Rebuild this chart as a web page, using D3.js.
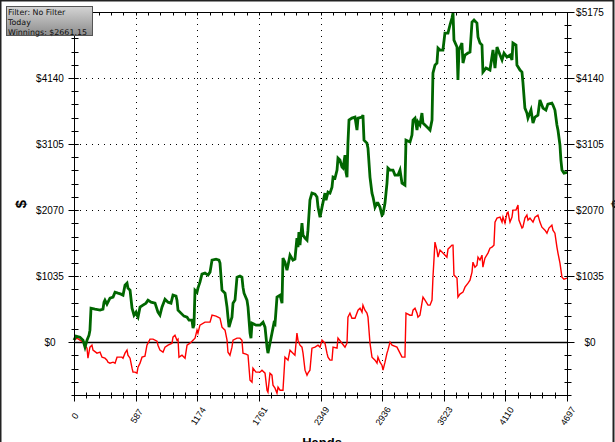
<!DOCTYPE html>
<html><head><meta charset="utf-8">
<script src="https://cdn.jsdelivr.net/npm/d3@7/dist/d3.min.js"></script>
<style>html,body{margin:0;padding:0;background:#fff;overflow:hidden}svg{display:block}</style>
</head><body>
<svg id="chart" width="615" height="442"></svg>
<script>
// ---- data ----
const greenHands = [0,19,57,86,105,124,143,152,162,200,248,276,286,295,314,343,372,391,419,448,467,486,505,514,534,553,572,591,600,610,629,657,686,705,734,772,800,819,838,867,896,924,943,972,981,991,1019,1048,1077,1096,1124,1134,1143,1153,1172,1181,1200,1219,1248,1277,1296,1315,1353,1381,1391,1410,1439,1458,1467,1477,1496,1505,1515,1534,1553,1581,1600,1610,1620,1648,1658,1677,1686,1696,1734,1772,1801,1820,1839,1848,1867,1886,1905,1915,1934,1963,1982,1991,2010,2029,2039,2058,2086,2105,2124,2134,2143,2153,2172,2182,2201,2220,2229,2248,2267,2296,2315,2325,2344,2363,2391,2401,2420,2439,2458,2468,2487,2506,2515,2534,2553,2563,2582,2591,2601,2610,2620,2648,2677,2696,2706,2744,2753,2763,2791,2801,2820,2839,2849,2868,2887,2896,2915,2934,2944,2963,2982,2991,3011,3039,3058,3087,3106,3125,3153,3163,3201,3220,3230,3249,3268,3277,3296,3315,3325,3344,3373,3392,3411,3420,3439,3458,3468,3487,3515,3534,3563,3582,3601,3611,3620,3649,3658,3668,3696,3706,3725,3754,3773,3792,3811,3839,3849,3868,3887,3896,3925,3963,3992,4011,4030,4059,4078,4097,4125,4154,4173,4182,4211,4220,4249,4268,4277,4296,4315,4325,4354,4373,4392,4420,4439,4468,4496,4515,4553,4563,4582,4601,4611,4630,4639,4649,4668,4697];
const greenValues = [31,94,78,31,-78,31,110,188,533,517,502,517,627,659,596,690,706,784,768,753,737,894,925,847,815,533,423,470,423,392,549,580,612,659,627,612,470,423,549,674,627,612,737,721,659,502,455,408,392,345,345,220,267,815,784,847,941,1066,1082,1051,1098,1286,1301,1286,1239,815,768,549,392,235,345,392,612,659,1019,1035,1019,862,768,659,549,141,63,298,267,267,314,235,-78,-172,-16,141,298,282,706,737,612,1317,1254,1129,1207,1364,1286,1301,1631,1490,1725,1521,1866,1678,1631,1600,1756,2227,2336,2321,2274,2117,1960,2117,2336,2227,2352,2336,2430,2587,2572,2697,2885,2854,2744,2728,2932,2666,2587,3120,3481,3512,3528,3324,3512,3528,3559,3167,3120,3042,2587,2336,2274,2117,2180,2180,2117,1991,2007,2180,2493,2728,2697,2697,2619,2619,2697,2493,2462,3167,3136,3246,3481,3512,3324,3450,3403,3591,3434,3403,3356,3324,3481,4218,4343,4375,4610,4579,4579,4845,4845,4971,5080,5159,4735,4626,4108,4579,4688,4375,4500,4532,4547,5018,5049,5002,4783,4688,4657,4234,4296,4265,4579,4296,4626,4500,4422,4532,4469,4500,4422,4688,4657,4343,4265,4234,4077,3669,3591,3512,3638,3434,3528,3559,3795,3669,3638,3732,3747,3716,3638,3403,3324,3089,2854,2697,2650,2661];

const redHands = [0,29,57,86,105,124,133,143,152,171,181,219,248,267,295,314,324,343,372,391,410,438,457,467,486,505,514,534,553,562,581,600,610,629,648,676,695,705,724,753,791,800,819,848,867,896,934,943,962,981,991,1000,1029,1058,1077,1105,1134,1153,1172,1181,1200,1248,1296,1315,1353,1372,1391,1410,1439,1458,1467,1486,1505,1515,1553,1581,1600,1610,1639,1658,1677,1696,1705,1734,1772,1791,1820,1839,1848,1867,1886,1896,1915,1934,1944,1963,1991,2010,2039,2058,2086,2105,2124,2134,2153,2172,2182,2201,2220,2229,2248,2267,2296,2325,2344,2363,2391,2410,2420,2439,2458,2468,2506,2515,2553,2582,2601,2610,2629,2648,2677,2706,2725,2744,2753,2772,2791,2801,2820,2839,2868,2887,2896,2915,2934,2944,2963,2982,2991,3011,3030,3077,3106,3125,3153,3163,3201,3220,3230,3249,3268,3277,3296,3315,3325,3344,3373,3392,3411,3420,3439,3458,3468,3487,3515,3553,3563,3601,3611,3620,3649,3658,3677,3706,3725,3754,3773,3792,3801,3820,3839,3849,3868,3887,3896,3915,3944,3963,3982,4001,4011,4030,4059,4078,4087,4106,4125,4135,4154,4173,4182,4211,4230,4239,4268,4277,4296,4315,4325,4344,4373,4392,4420,4439,4458,4487,4506,4525,4553,4563,4582,4601,4611,4630,4649,4668,4697];
const redValues = [31,63,31,0,-47,-94,-251,-157,-78,-47,-125,-172,-157,-235,-251,-282,-314,-329,-314,-329,-235,-235,-235,-251,-172,-125,-204,-251,-408,-470,-470,-486,-392,-329,-235,-220,-47,-16,47,47,16,-47,-125,-157,-78,-47,-16,78,110,31,47,-235,-204,-251,-47,-16,31,63,188,141,267,314,314,423,408,392,376,235,188,31,-157,-204,-78,31,63,63,31,-172,-188,-204,-596,-627,-408,-470,-470,-439,-486,-753,-784,-486,-517,-674,-721,-800,-706,-753,-753,-235,-282,-125,-172,-204,141,31,-47,-78,-172,-439,-517,-486,-439,-94,-78,-47,-78,31,-16,-172,-235,-282,-282,-78,-94,63,-16,-78,-16,392,455,376,376,502,533,470,580,502,455,392,-16,-235,-282,-329,-235,-314,-361,-439,-314,-172,-125,0,-47,-78,-172,-235,-235,455,423,423,502,533,455,392,423,612,706,659,580,580,659,1019,1568,1443,1333,1443,1396,1333,1458,1521,1521,1051,1004,706,753,784,862,925,972,1098,1254,1176,1207,1333,1286,1364,1176,1317,1396,1474,1490,1521,1882,1944,1960,1882,1960,1866,2023,2038,1882,1960,2070,2070,2148,1913,1788,1803,1944,1991,1913,1944,1882,1960,1991,1882,1803,1756,1709,1788,1835,1756,1709,1490,1396,1239,1019,988,1004];

const xTickValues = [0,587,1174,1761,2349,2936,3523,4110,4697];
const xTickLabels = ["0","587","1174","1761","2349","2936","3523","4110","4697"];
const yTickValues = [0,1035,2070,3105,4140,5175];
const yTickLabels = ["$0","$1035","$2070","$3105","$4140","$5175"];
const legendLines = ["Filter: No Filter","Today","Winnings: $2661.15"];

// ---- chart ----
const svg = d3.select("#chart");
const x = d3.scaleLinear().domain([0,4697]).range([74,567]);
const y = d3.scaleLinear().domain([-828,5175]).range([395,12]);

const xMinor = d3.range(0, 4697+1, 4697/40);
const yMinor = d3.range(-828, 5175+1, 207);

// grid
svg.append("g").selectAll("line").data(xTickValues.slice(1,-1)).join("line")
  .attr("x1",d=>Math.round(x(d))+0.5).attr("x2",d=>Math.round(x(d))+0.5)
  .attr("y1",y(5175)).attr("y2",y(-828))
  .attr("stroke","#000").attr("stroke-width",1).attr("stroke-dasharray","1,5");
svg.append("g").selectAll("line").data(yTickValues.slice(1,-1)).join("line")
  .attr("x1",x(0)).attr("x2",x(4697))
  .attr("y1",d=>Math.round(y(d))+0.5).attr("y2",d=>Math.round(y(d))+0.5)
  .attr("stroke","#000").attr("stroke-width",1).attr("stroke-dasharray","1,5");

// zero line
svg.append("line").attr("x1",x(0)).attr("x2",x(4697))
  .attr("y1",Math.round(y(0))+0.5).attr("y2",Math.round(y(0))+0.5)
  .attr("stroke","#000").attr("stroke-width",1.3);

// lines
const line = d3.line().x(d=>x(d[0])).y(d=>y(d[1]));
const red = redHands.map((h,i)=>[h,redValues[i]]);
const green = greenHands.map((h,i)=>[h,greenValues[i]]);
svg.append("path").datum(red).attr("d",line).attr("fill","none")
  .attr("stroke","#ff0000").attr("stroke-width",1.4).attr("stroke-linejoin","miter");
svg.append("path").datum(green).attr("d",line).attr("fill","none")
  .attr("stroke","#006600").attr("stroke-width",2.8).attr("stroke-linejoin","miter");

// axes frame
const ax = svg.append("g").attr("stroke","#000").attr("stroke-width",1);
const L = Math.round(x(0))+0.5, R = Math.round(x(4697))+0.5, T = Math.round(y(5175))+0.5, B = Math.round(y(-828))+0.5;
ax.append("line").attr("x1",L).attr("x2",L).attr("y1",T).attr("y2",B);
ax.append("line").attr("x1",R).attr("x2",R).attr("y1",T).attr("y2",B);
ax.append("line").attr("x1",L).attr("x2",R).attr("y1",T).attr("y2",T);
ax.append("line").attr("x1",L).attr("x2",R).attr("y1",B).attr("y2",B);
ax.selectAll(".xb").data(xMinor).join("line")
  .attr("x1",d=>Math.round(x(d))+0.5).attr("x2",d=>Math.round(x(d))+0.5)
  .attr("y1",B-3).attr("y2",B+3);
ax.selectAll(".xt").data(xMinor).join("line")
  .attr("x1",d=>Math.round(x(d))+0.5).attr("x2",d=>Math.round(x(d))+0.5)
  .attr("y1",T).attr("y2",T+3);
ax.selectAll(".xM").data(xTickValues).join("line")
  .attr("x1",d=>Math.round(x(d))+0.5).attr("x2",d=>Math.round(x(d))+0.5)
  .attr("y1",B-5).attr("y2",B+6);
ax.selectAll(".yl").data(yMinor).join("line")
  .attr("x1",L-3).attr("x2",L+4)
  .attr("y1",d=>Math.round(y(d))+0.5).attr("y2",d=>Math.round(y(d))+0.5);
ax.selectAll(".yr").data(yMinor).join("line")
  .attr("x1",R-3).attr("x2",R+4)
  .attr("y1",d=>Math.round(y(d))+0.5).attr("y2",d=>Math.round(y(d))+0.5);
ax.selectAll(".yL").data(yTickValues).join("line")
  .attr("x1",L-6).attr("x2",L+4)
  .attr("y1",d=>Math.round(y(d))+0.5).attr("y2",d=>Math.round(y(d))+0.5);
ax.selectAll(".yR").data(yTickValues).join("line")
  .attr("x1",R-3).attr("x2",R+7)
  .attr("y1",d=>Math.round(y(d))+0.5).attr("y2",d=>Math.round(y(d))+0.5);

// tick labels
const fnt = "'Liberation Sans', Arial, sans-serif";
svg.append("g").selectAll("text").data(yTickValues.slice(0,-1)).join("text")
  .attr("x",50).attr("y",d=>y(d)+3.5).attr("text-anchor","middle")
  .attr("font-family",fnt).attr("font-size",10).attr("fill","#000")
  .text((d,i)=>yTickLabels[i]);
svg.append("g").selectAll("text").data(yTickValues).join("text")
  .attr("x",590).attr("y",d=>y(d)+3.5).attr("text-anchor","middle")
  .attr("font-family",fnt).attr("font-size",10).attr("fill","#000")
  .text((d,i)=>yTickLabels[i]);
svg.append("g").selectAll("text").data(xTickValues).join("text")
  .attr("transform",d=>`translate(${x(d)+1},416) rotate(-57)`)
  .attr("text-anchor","middle").attr("dy","0.35em")
  .attr("font-family",fnt).attr("font-size",9).attr("fill","#000")
  .text((d,i)=>xTickLabels[i]);

// axis titles
svg.append("text").attr("transform","translate(21,204) rotate(-90)")
  .attr("text-anchor","middle").attr("dy","0.35em")
  .attr("font-family",fnt).attr("font-weight","bold").attr("font-size",15).text("$");
svg.append("text").attr("transform","translate(617,204) rotate(90)")
  .attr("text-anchor","middle").attr("dy","0.35em")
  .attr("font-family",fnt).attr("font-weight","bold").attr("font-size",15).text("$");
svg.append("text").attr("x",322).attr("y",447).attr("text-anchor","middle")
  .attr("font-family",fnt).attr("font-weight","bold").attr("font-size",13).text("Hands");

// outer frame
svg.append("rect").attr("x",0.5).attr("y",0.5).attr("width",613).attr("height",460)
  .attr("fill","none").attr("stroke","#222").attr("stroke-width",2);

// legend box
const defs = svg.append("defs");
const grad = defs.append("linearGradient").attr("id","lg").attr("x1",0).attr("y1",0).attr("x2",0).attr("y2",1);
grad.append("stop").attr("offset","0%").attr("stop-color","#d4d4d4");
grad.append("stop").attr("offset","100%").attr("stop-color","#8c8c8c");
svg.append("rect").attr("x",6.5).attr("y",6.5).attr("width",86).attr("height",29)
  .attr("fill","url(#lg)").attr("stroke","#555");
svg.append("g").selectAll("text").data(legendLines).join("text")
  .attr("x",8).attr("y",(d,i)=>14.5+i*10)
  .attr("font-family","'DejaVu Sans', Verdana, sans-serif").attr("font-size",7.9).attr("fill","#111")
  .text(d=>d);
</script>
</body></html>
